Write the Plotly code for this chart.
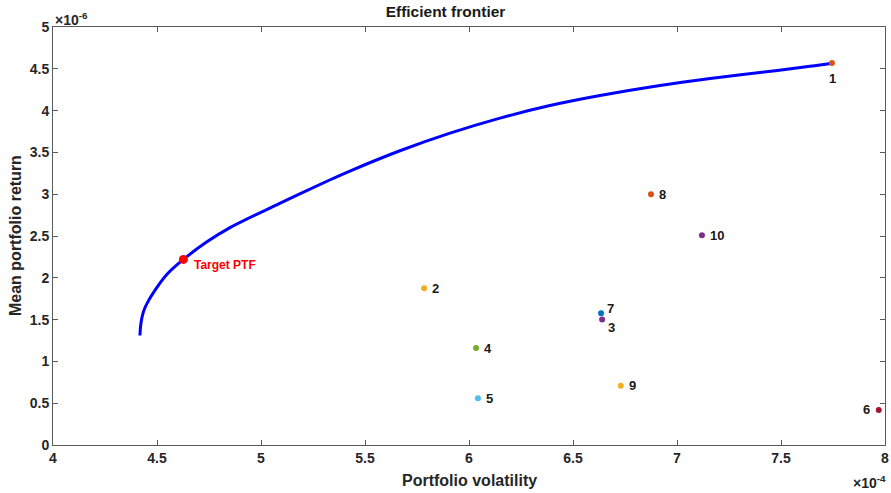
import plotly.graph_objects as go

# Values in scaled units: volatility x 1e-4, return x 1e-6
frontier_vol = [4.418, 4.421, 4.428, 4.44, 4.46, 4.49, 4.547, 4.627, 4.74, 4.851, 5.09, 5.33, 5.43,
                5.668, 5.909, 6.149, 6.389, 6.63, 6.918, 7.159, 7.399, 7.639, 7.745]
frontier_ret = [1.31, 1.42, 1.53, 1.63, 1.73, 1.85, 2.04, 2.22, 2.43, 2.60, 2.89, 3.17, 3.28,
                3.52, 3.73, 3.91, 4.06, 4.18, 4.30, 4.383, 4.455, 4.53, 4.567]

asset_labels = ["1", "2", "3", "4", "5", "6", "7", "8", "9", "10"]
asset_vol = [7.745, 5.784, 6.64, 6.034, 6.043, 7.97, 6.635, 6.875, 6.73, 7.12]
asset_ret = [4.57, 1.875, 1.50, 1.16, 0.56, 0.42, 1.575, 3.00, 0.71, 2.51]
asset_colors = ["#D95319", "#EDB120", "#7E2F8E", "#77AC30", "#4DBEEE",
                "#A2142F", "#0072BD", "#D95319", "#EDB120", "#7E2F8E"]

target_vol = [4.627]
target_ret = [2.22]
target_label = "Target PTF"

x_ticks = [4, 4.5, 5, 5.5, 6, 6.5, 7, 7.5, 8]
y_ticks = [0, 0.5, 1, 1.5, 2, 2.5, 3, 3.5, 4, 4.5, 5]

FONT = "Liberation Sans, Arial, sans-serif"
AX = "#5a5a5a"
TXT = "#262626"

fig = go.Figure()
fig.add_trace(go.Scatter(x=frontier_vol, y=frontier_ret, mode="lines",
                         line=dict(color="#0000FF", width=3, shape="spline", smoothing=1),
                         showlegend=False, hoverinfo="skip"))
fig.add_trace(go.Scatter(x=asset_vol, y=asset_ret, mode="markers",
                         marker=dict(color=asset_colors, size=6),
                         cliponaxis=False, showlegend=False))
fig.add_trace(go.Scatter(x=target_vol, y=target_ret, mode="markers",
                         marker=dict(color="#FF0000", size=9),
                         showlegend=False))

# label placement per asset: (xanchor, yanchor, xshift, yshift)
placement = {
    "1": ("center", "top", 1, -6),
    "6": ("right", "middle", -7, 0),
    "7": ("left", "middle", 4, 5),
    "3": ("left", "middle", 4, -8),
}
annotations = []
for lab, xv, yv in zip(asset_labels, asset_vol, asset_ret):
    xa, ya, xs, ys = placement.get(lab, ("left", "middle", 6, 0))
    annotations.append(dict(x=xv, y=yv, xref="x", yref="y", text="<b>%s</b>" % lab,
                            showarrow=False, xanchor=xa, yanchor=ya, xshift=xs, yshift=ys,
                            font=dict(family=FONT, size=13, color="#1a1a1a")))
annotations.append(dict(x=target_vol[0], y=target_ret[0], xref="x", yref="y",
                        text="<b>%s</b>" % target_label, showarrow=False,
                        xanchor="left", yanchor="middle", xshift=9, yshift=-6,
                        font=dict(family=FONT, size=12, color="#FF0000")))
annotations.append(dict(x=0.0, y=1.0, xref="paper", yref="paper",
                        text="<b>×10<sup>-6</sup></b>", showarrow=False,
                        xanchor="left", yanchor="bottom", yshift=-3,
                        font=dict(family=FONT, size=14, color=TXT)))
annotations.append(dict(x=1.0, y=0.0, xref="paper", yref="paper",
                        text="<b>×10<sup>-4</sup></b>", showarrow=False,
                        xanchor="right", yanchor="top", yshift=-26, xshift=3,
                        font=dict(family=FONT, size=14, color=TXT)))
annotations.append(dict(x=0.5, y=0.0, xref="paper", yref="paper",
                        text="<b>Portfolio volatility</b>", showarrow=False,
                        xanchor="center", yanchor="middle", yshift=-35,
                        font=dict(family=FONT, size=16, color=TXT)))
annotations.append(dict(x=0.0, y=0.5, xref="paper", yref="paper",
                        text="<b>Mean portfolio return</b>", showarrow=False, textangle=-90,
                        xanchor="center", yanchor="middle", xshift=-38,
                        font=dict(family=FONT, size=16, color=TXT)))

fig.update_layout(
    width=891, height=493,
    margin=dict(l=53, r=6, t=27, b=48, autoexpand=False),
    paper_bgcolor="white", plot_bgcolor="white",
    title=dict(text="<b>Efficient frontier</b>", x=0.5, xanchor="center",
               y=1 - 12 / 493, yref="container", yanchor="middle",
               font=dict(family=FONT, size=15.5, color="#1a1a1a")),
    annotations=annotations,
    xaxis=dict(range=[4, 8], tickvals=x_ticks, ticktext=[("<b>%g</b>" % v) for v in x_ticks],
               automargin=False,
               showgrid=False, zeroline=False, showline=True, linecolor=AX, linewidth=1,
               mirror="ticks", ticks="inside", ticklen=5, tickcolor=AX,
               tickfont=dict(family=FONT, size=14, color=TXT)),
    yaxis=dict(range=[0, 5], tickvals=y_ticks, ticktext=[("<b>%g</b>" % v) for v in y_ticks],
               automargin=False,
               showgrid=False, zeroline=False, showline=True, linecolor=AX, linewidth=1,
               mirror="ticks", ticks="inside", ticklen=5, tickcolor=AX,
               tickfont=dict(family=FONT, size=14, color=TXT)),
)

fig.write_html("out.html", config={"displayModeBar": False},
               post_script="document.body.style.margin='0';document.body.style.overflow='hidden';")
